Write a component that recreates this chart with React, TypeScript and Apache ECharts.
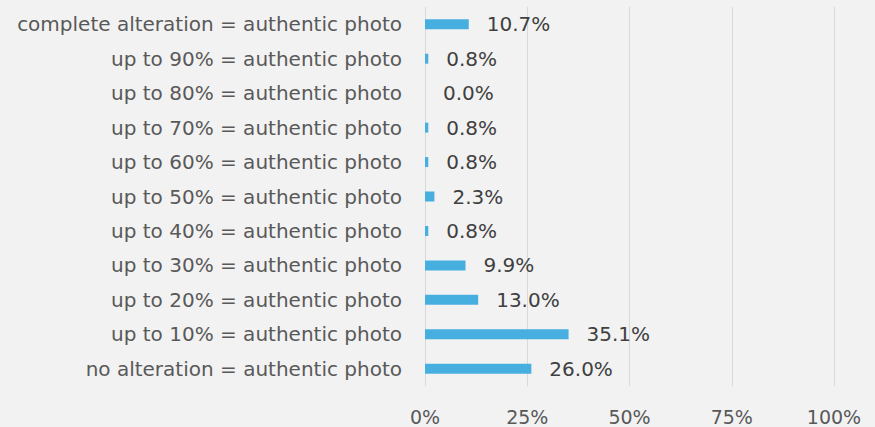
import React, { useEffect, useRef } from "react";
import * as echarts from "echarts";

const categories = [
  "no alteration = authentic photo",
  "up to 10% = authentic photo",
  "up to 20% = authentic photo",
  "up to 30% = authentic photo",
  "up to 40% = authentic photo",
  "up to 50% = authentic photo",
  "up to 60% = authentic photo",
  "up to 70% = authentic photo",
  "up to 80% = authentic photo",
  "up to 90% = authentic photo",
  "complete alteration = authentic photo",
];
const values = [26.0, 35.1, 13.0, 9.9, 0.8, 2.3, 0.8, 0.8, 0.0, 0.8, 10.7];
const xTicks = [0, 25, 50, 75, 100];

export default function App() {
  const ref = useRef<HTMLDivElement>(null);
  useEffect(() => {
    if (!ref.current) return;
    const chart = echarts.init(ref.current, null, { renderer: "svg" });
    const font = "'DejaVu Sans', sans-serif";
    chart.setOption({
      animation: false,
      backgroundColor: "#f2f2f2",
      textStyle: { fontFamily: font },
      grid: { left: 425, right: 41, top: 7, bottom: 41, containLabel: false },
      xAxis: {
        type: "value",
        min: xTicks[0],
        max: xTicks[xTicks.length - 1],
        interval: 25,
        axisLine: { show: false },
        axisTick: { show: false },
        splitLine: { show: true, lineStyle: { color: "#d9d9d9", width: 1 } },
        axisLabel: {
          formatter: (v: number) => v + "%",
          color: "#595959",
          fontSize: 19,
          margin: 21,
          fontFamily: font,
        },
      },
      yAxis: {
        type: "category",
        data: categories,
        axisLine: { show: false },
        axisTick: { show: false },
        axisLabel: {
          color: "#595959",
          fontSize: 20,
          margin: 23,
          fontFamily: font,
        },
      },
      series: [
        {
          type: "bar",
          data: values,
          barWidth: 10,
          itemStyle: { color: "#47afe0" },
          label: {
            show: true,
            position: "right",
            distance: 18,
            formatter: (p: any) => p.value.toFixed(1) + "%",
            color: "#404040",
            fontSize: 20,
            fontFamily: font,
          },
        },
      ],
    });
    return () => chart.dispose();
  }, []);
  return <div ref={ref} style={{ width: 875, height: 427, position: "fixed", left: 0, top: 0 }} />;
}
